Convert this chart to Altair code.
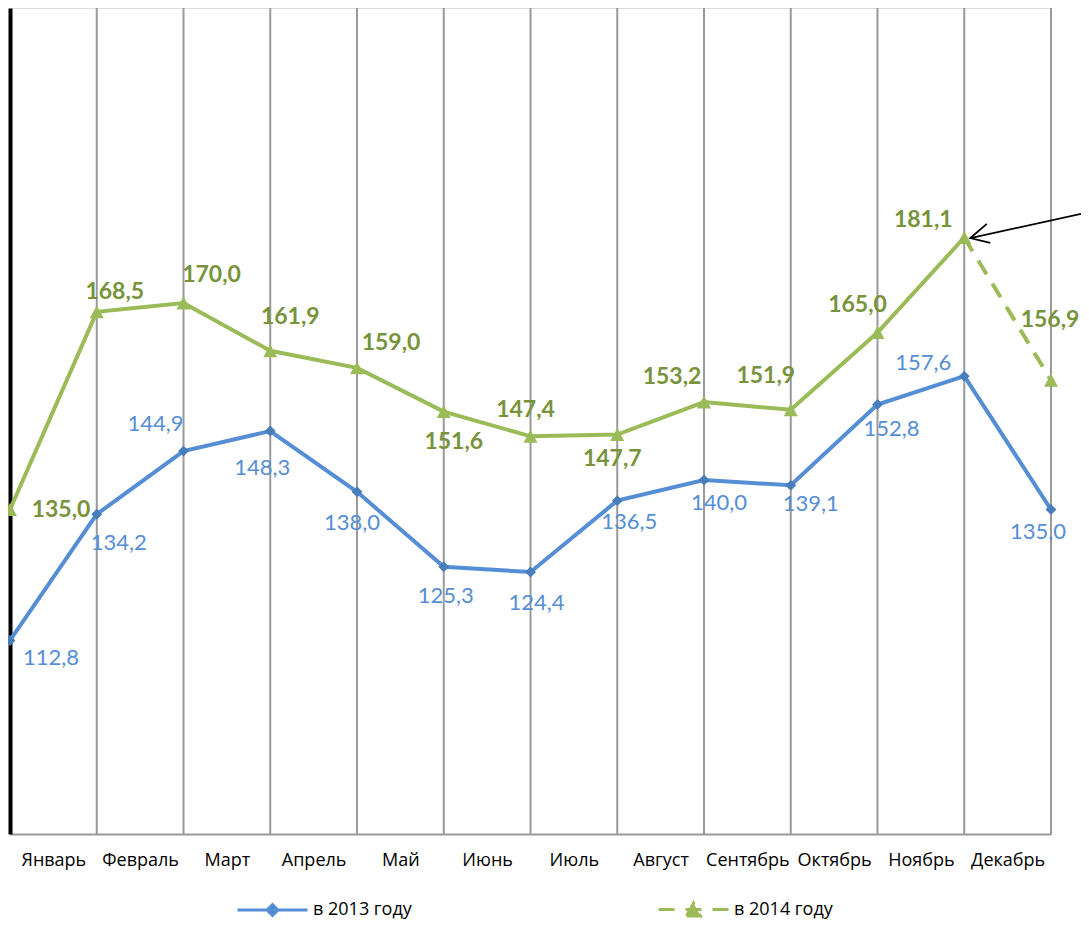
import altair as alt
import pandas as pd

# ---------------- data ----------------
months = ["Январь", "Февраль", "Март", "Апрель", "Май", "Июнь", "Июль",
          "Август", "Сентябрь", "Октябрь", "Ноябрь", "Декабрь"]
positions = list(range(13))
values_2013 = [112.8, 134.2, 144.9, 148.3, 138.0, 125.3, 124.4, 136.5, 140.0, 139.1, 152.8, 157.6, 135.0]
values_2014 = [135.0, 168.5, 170.0, 161.9, 159.0, 151.6, 147.4, 147.7, 153.2, 151.9, 165.0, 181.1, 156.9]
series_names = ["в 2013 году", "в 2014 году"]
grid_positions = list(range(1, 13))
month_tick_positions = [i + 0.5 for i in range(12)]

# label offsets in pixels (dx, dy) relative to each point
label_offsets_2013 = [(41, 17), (22, 28), (-28, -28), (-8, 36), (-5, 30), (2, 28), (6, 30),
                      (12, 20), (15, 22), (20, 18), (14, 24), (-41, -14), (-13, 21)]
label_offsets_2014 = [(51, -1), (18, -21), (28, -29), (20, -35), (34, -26), (10, 29), (-5, -27),
                      (-5, 23), (-32, -26), (-25, -35), (-20, -29), (-41, -19), (-1, -61)]

# annotation arrow (data coordinates)
arrow_shaft_x = [12.44, 11.07]
arrow_shaft_y = [185.4, 181.0]
arrow_head_x = [11.26, 11.07, 11.30]
arrow_head_y = [183.4, 181.0, 180.2]

BLUE_LINE = "#558ED5"
BLUE_MARK = "#4A7EBB"
GREEN_LINE = "#9BBB59"
GREEN_TEXT = "#77933C"
GRID = "#9A9A9A"


def fmt(v):
    return f"{v:.1f}".replace(".", ",")


df13 = pd.DataFrame({"x": positions, "y": values_2013, "series": series_names[0],
                     "label": [fmt(v) for v in values_2013]})
df14 = pd.DataFrame({"x": positions, "y": values_2014, "series": series_names[1],
                     "label": [fmt(v) for v in values_2014]})
df_pts = pd.concat([df13, df14], ignore_index=True)
df_grid = pd.DataFrame({"x": grid_positions})
df_arrow = pd.DataFrame({
    "x": arrow_shaft_x + arrow_head_x,
    "y": arrow_shaft_y + arrow_head_y,
    "part": ["shaft"] * len(arrow_shaft_x) + ["head"] * len(arrow_head_x),
    "order": list(range(len(arrow_shaft_x))) + list(range(len(arrow_head_x))),
})

label_expr = "[" + ",".join(f"'{m}'" for m in months) + "][floor(datum.value)]"

x_enc = alt.X("x:Q", scale=alt.Scale(domain=[0, 12], nice=False, zero=False),
              axis=alt.Axis(values=month_tick_positions, labelExpr=label_expr, grid=False,
                            ticks=False, tickSize=0, domainColor=GRID, domainWidth=2,
                            labelFont="Open Sans", labelFontSize=18, labelColor="black",
                            labelPadding=31, labelBaseline="alphabetic", labelFlush=False,
                            labelOverlap=False, title=None))
y_enc = alt.Y("y:Q", scale=alt.Scale(domain=[80, 220], nice=False, zero=False),
              axis=alt.Axis(labels=False, ticks=False, tickSize=0, grid=False, domainColor="black",
                            domainWidth=4, title=None))

grid = alt.Chart(df_grid).mark_rule(color=GRID, strokeWidth=2).encode(x=x_enc)

line13 = alt.Chart(df13).mark_line(color=BLUE_LINE, strokeWidth=4).encode(x=x_enc, y=y_enc)
line14 = alt.Chart(df14).transform_filter(alt.datum.x <= 11).mark_line(
    color=GREEN_LINE, strokeWidth=4).encode(x=x_enc, y=y_enc)
line14d = alt.Chart(df14).transform_filter(alt.datum.x >= 11).mark_line(
    color=GREEN_LINE, strokeWidth=4, strokeDash=[16, 11]).encode(x=x_enc, y=y_enc)

diamond_path = "M-1,0L1,0M-0.155,0L0,-0.155L0.155,0L0,0.155Z"
triangle_path = "M-1,0L1,0M-0.2,0.185L0,-0.185L0.2,0.185Z"

leg = alt.Legend(title=None, orient="none", legendX=226, legendY=865, direction="horizontal",
                 symbolSize=4900, symbolStrokeWidth=3, labelOffset=4, columnPadding=240,
                 padding=0, labelFont="Open Sans", labelFontSize=18, labelColor="black")

points = alt.Chart(df_pts).mark_point(filled=True, size=4900, strokeWidth=0, opacity=1).encode(
    x=x_enc, y=y_enc,
    fill=alt.Fill("series:N", scale=alt.Scale(domain=series_names, range=[BLUE_MARK, GREEN_LINE]),
                  legend=leg),
    stroke=alt.Stroke("series:N", scale=alt.Scale(domain=series_names, range=[BLUE_LINE, GREEN_LINE]),
                      legend=leg),
    shape=alt.Shape("series:N", scale=alt.Scale(domain=series_names, range=[diamond_path, triangle_path]),
                    legend=leg),
    strokeDash=alt.StrokeDash("series:N", scale=alt.Scale(domain=series_names, range=[[1, 0], [16, 11]]),
                              legend=leg),
)

arrow = alt.Chart(df_arrow).mark_line(color="black", strokeWidth=1.8).encode(
    x=x_enc, y=y_enc, detail="part:N", order="order:Q")

label_layers = []
for i, (dx, dy) in enumerate(label_offsets_2013):
    label_layers.append(
        alt.Chart(df13).transform_filter(alt.datum.x == i).mark_text(
            dx=dx, dy=dy + 1, font="Lato", fontSize=22, color=BLUE_LINE,
            align="center", baseline="middle").encode(x=x_enc, y=y_enc, text="label:N"))
for i, (dx, dy) in enumerate(label_offsets_2014):
    label_layers.append(
        alt.Chart(df14).transform_filter(alt.datum.x == i).mark_text(
            dx=dx, dy=dy + 1, font="Lato", fontSize=23, fontWeight="bold", color=GREEN_TEXT,
            align="center", baseline="middle").encode(x=x_enc, y=y_enc, text="label:N"))

chart = alt.layer(grid, line13, line14, line14d, points, arrow, *label_layers).properties(
    width=1041, height=826,
    autosize=alt.AutoSizeParams(type="none"),
    padding={"left": 2, "top": 0, "right": 30, "bottom": 86},
).configure_view(stroke=None).configure(background="white")

chart.save("out.html", embed_options={"renderer": "svg", "actions": False})
